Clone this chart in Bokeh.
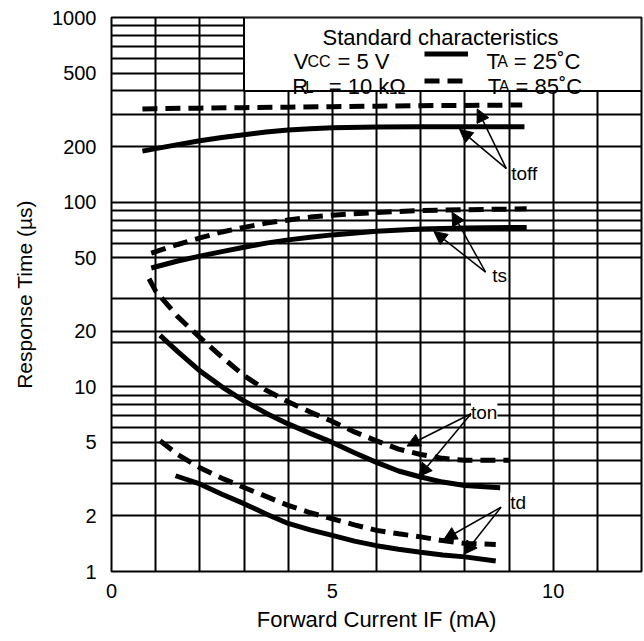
from bokeh.plotting import figure
from bokeh.models import (FixedTicker, PrintfTickFormatter, Label, Arrow, NormalHead,
                          BoxAnnotation, Legend, LegendItem, Range1d)
from bokeh.core.properties import value
from bokeh.embed import file_html
from bokeh.resources import INLINE

FONT = "Liberation Sans"

# ---------------- data ----------------
# toff
toff85_x = [0.7, 1.0, 2.0, 3.0, 4.0, 5.0, 6.0, 7.0, 8.0, 9.3]
toff85_y = [320, 321, 323, 325, 327, 329, 331, 333, 334, 336]
toff25_x = [0.7, 1.0, 1.5, 2.0, 2.5, 3.0, 3.5, 4.0, 4.5, 5.0, 6.0, 7.0, 8.0, 9.35]
toff25_y = [189, 195, 205, 215, 224, 232, 240, 246, 250, 253, 255, 256, 256, 256]
# ts
ts85_x = [0.9, 1.5, 2.0, 2.5, 3.0, 3.5, 4.0, 4.5, 5.0, 6.0, 7.0, 8.0, 9.4]
ts85_y = [53, 59, 64, 69, 73, 77, 80, 83, 85, 88, 90, 91, 92]
ts25_x = [0.9, 1.5, 2.0, 2.5, 3.0, 3.5, 4.0, 4.5, 5.0, 6.0, 7.0, 8.0, 9.4]
ts25_y = [44, 48, 51, 54, 57, 60, 62.5, 64.5, 66.5, 69.5, 71.5, 72.5, 73]
# ton
ton85_x = [0.85, 1.0, 1.5, 2.0, 2.5, 3.0, 3.5, 4.0, 4.5, 5.0, 5.5, 6.0, 6.5, 7.0, 7.5, 8.0, 9.0]
ton85_y = [38.5, 33, 24, 18.5, 14.5, 11.5, 9.6, 8.3, 7.3, 6.5, 5.7, 5.1, 4.6, 4.3, 4.1, 4.0, 4.0]
ton25_x = [1.1, 1.5, 2.0, 2.5, 3.0, 3.5, 4.0, 4.5, 5.0, 5.5, 6.0, 6.5, 7.0, 7.5, 8.0, 8.8]
ton25_y = [19, 15.5, 12.2, 10, 8.4, 7.2, 6.3, 5.6, 5.0, 4.4, 3.9, 3.5, 3.25, 3.05, 2.92, 2.84]
# td
td85_x = [1.1, 1.5, 2.0, 2.5, 3.0, 3.5, 4.0, 4.5, 5.0, 5.5, 6.0, 6.5, 7.0, 7.5, 8.0, 8.7]
td85_y = [5.1, 4.3, 3.65, 3.2, 2.85, 2.55, 2.28, 2.08, 1.93, 1.79, 1.67, 1.6, 1.54, 1.47, 1.42, 1.40]
td25_x = [1.45, 2.0, 2.5, 3.0, 3.5, 4.0, 4.5, 5.0, 5.5, 6.0, 6.5, 7.0, 7.5, 8.0, 8.7]
td25_y = [3.3, 2.98, 2.62, 2.33, 2.05, 1.82, 1.68, 1.57, 1.46, 1.38, 1.32, 1.27, 1.23, 1.2, 1.14]

# axis ticks and grid
x_ticks = [0, 5, 10]
y_ticks = [1, 2, 5, 10, 20, 50, 100, 200, 500, 1000]
grid_x = [1, 2, 3, 4, 5, 6, 7, 8, 9, 10, 11]
grid_y = [2, 3, 4, 5, 6, 7, 8, 9, 10, 17.4, 20, 30, 50, 60, 70, 80, 90, 100,
          200, 300, 400, 500, 600, 700, 800, 900]

# curve annotations: label text, label anchor, arrow tail, arrow tips (85C, 25C)
ann_text = ["toff", "ts", "ton", "td"]
ann_x = [9.05, 8.62, 8.14, 9.03]
ann_y = [143, 40.1, 7.24, 2.35]
tail_x = [8.94, 8.47, 8.14, 8.82]
tail_y = [152, 41.8, 7.15, 2.23]
tip85_x = [8.28, 7.71, 6.69, 7.52]
tip85_y = [320, 88.3, 4.78, 1.486]
tip25_x = [7.88, 7.30, 6.96, 7.98]
tip25_y = [248, 69.4, 3.27, 1.24]

# legend text pieces (big / small-cap subscript parts)
leg_big_text = ["V", "= 5 V", "R", "= 10 kΩ", "T", "= 25˚C", "T", "= 85˚C"]
leg_big_x = [4.125, 5.117, 4.091, 4.92, 8.49, 9.108, 8.519, 9.146]
leg_big_y = [580, 580, 423, 423, 580, 580, 423, 423]
leg_small_text = ["CC", "A", "A"]
leg_small_x = [4.437, 8.732, 8.768]
leg_small_y = [580, 580, 423]
leg_sub_l_text = ["L"]
leg_sub_l_x = [4.38]
leg_sub_l_y = [423]

# ---------------- figure ----------------
p = figure(width=644, height=641, output_backend="svg", toolbar_location=None,
           x_range=Range1d(0, 12), y_range=Range1d(1, 1000), y_axis_type="log",
           min_border_left=111, min_border_right=3, min_border_top=17,
           min_border_bottom=70)
p.background_fill_color = "white"
p.border_fill_color = "white"
p.outline_line_color = "black"
p.outline_line_width = 2
p.outline_line_alpha = 1

for g, tk in ((p.xgrid, grid_x), (p.ygrid, grid_y)):
    g.ticker = FixedTicker(ticks=tk)
    g.grid_line_color = "black"
    g.grid_line_width = 2
    g.grid_line_alpha = 1
    g.minor_grid_line_color = None

p.xaxis.ticker = FixedTicker(ticks=x_ticks)
p.yaxis.ticker = FixedTicker(ticks=y_ticks)
p.yaxis.formatter = PrintfTickFormatter(format="%d")
for ax in (p.xaxis, p.yaxis):
    ax.axis_line_color = None
    ax.major_tick_line_color = None
    ax.minor_tick_line_color = None
    ax.major_tick_out = 0
    ax.major_tick_in = 0
    ax.major_label_text_font = FONT
    ax.major_label_text_font_size = "20px"
    ax.major_label_text_color = "black"
    ax.axis_label_text_font = FONT
    ax.axis_label_text_font_style = "normal"
    ax.axis_label_text_color = "black"
p.xaxis.axis_label = "Forward Current IF (mA)"
p.yaxis.axis_label = "Response Time (µs)"
p.xaxis.axis_label_text_font_size = "22px"
p.yaxis.axis_label_text_font_size = "21px"
p.xaxis.major_label_standoff = 12
p.yaxis.major_label_standoff = 15
p.xaxis.axis_label_standoff = 6
p.yaxis.axis_label_standoff = 13

# ---------------- curves ----------------
LW = 5
DASH = "15 8"
r85 = p.line(toff85_x, toff85_y, line_color="black", line_width=LW, line_dash=DASH)
r25 = p.line(toff25_x, toff25_y, line_color="black", line_width=LW)
p.line(ts85_x, ts85_y, line_color="black", line_width=LW, line_dash=DASH)
p.line(ts25_x, ts25_y, line_color="black", line_width=LW)
p.line(ton85_x, ton85_y, line_color="black", line_width=LW, line_dash=DASH)
p.line(ton25_x, ton25_y, line_color="black", line_width=LW)
p.line(td85_x, td85_y, line_color="black", line_width=LW, line_dash=DASH)
p.line(td25_x, td25_y, line_color="black", line_width=LW)

# ---------------- legend box ----------------
p.add_layout(BoxAnnotation(left=3, right=12, bottom=400, top=1000,
                           fill_color="white", fill_alpha=1,
                           line_color="black", line_width=2, line_alpha=1))

legend = Legend(items=[LegendItem(label=" ", renderers=[r25]),
                       LegendItem(label=" ", renderers=[r85])],
                location=(313, 477), orientation="vertical",
                glyph_width=44, glyph_height=27, label_height=27, label_width=1,
                spacing=0, padding=0, margin=0, label_standoff=0,
                border_line_color=None, background_fill_alpha=0,
                label_text_font_size="2px")
p.add_layout(legend)

BIG, SMALL = 22, 16
p.add_layout(Label(x=7.45, y=782, text="Standard characteristics", text_font=FONT,
                   text_font_size=f"{BIG}px", text_align="center",
                   text_baseline="alphabetic", text_color="black"))
p.text(x=leg_big_x, y=leg_big_y, text=leg_big_text, text_font=value(FONT),
       text_font_size=f"{BIG}px", text_align="left", text_baseline="alphabetic",
       text_color="black", level="overlay")
p.text(x=leg_small_x, y=leg_small_y, text=leg_small_text, text_font=value(FONT),
       text_font_size=f"{SMALL}px", text_align="left",
       text_baseline="alphabetic", text_color="black", level="overlay")
p.text(x=leg_sub_l_x, y=leg_sub_l_y, text=leg_sub_l_text, text_font=value("Noto Sans"),
       text_font_size="16px", text_align="left",
       text_baseline="alphabetic", text_color="black", level="overlay")

# ---------------- curve labels and arrows ----------------
for t, lx, ly in zip(ann_text, ann_x, ann_y):
    p.add_layout(Label(x=lx, y=ly, text=t, text_font=FONT, text_font_size="19px",
                       text_align="left", text_baseline="middle", text_color="black",
                       background_fill_color="white", background_fill_alpha=1))

for i in range(len(ann_text)):
    for tx, ty in ((tip85_x[i], tip85_y[i]), (tip25_x[i], tip25_y[i])):
        p.add_layout(Arrow(end=NormalHead(size=13, fill_color="black",
                                          line_color="black", line_width=1),
                           x_start=tail_x[i], y_start=tail_y[i], x_end=tx, y_end=ty,
                           line_color="black", line_width=1.5))

open("out.html", "w").write(file_html(p, INLINE))
